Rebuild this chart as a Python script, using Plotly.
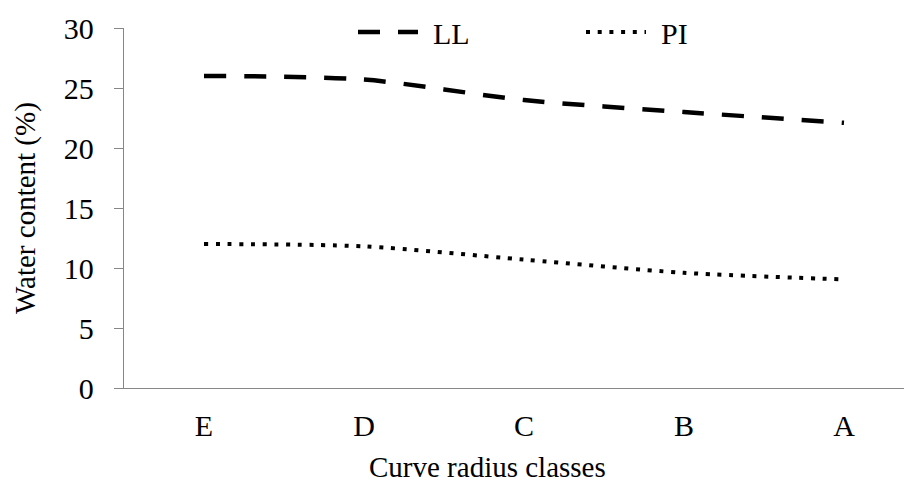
import plotly.graph_objects as go

categories = ["E", "D", "C", "B", "A"]
ll_values = [26.0, 25.7, 24.0, 23.0, 22.1]
pi_values = [12.0, 11.8, 10.7, 9.6, 9.05]
y_ticks = [0, 5, 10, 15, 20, 25, 30]

OFF = 8  # default body margin of the page
W, H = 912 - OFF, 485 - OFF
PLOT_L, PLOT_T, PLOT_B = 124, 28, 388  # page pixels
L, T = PLOT_L - OFF, PLOT_T - OFF
B = H - (PLOT_B - OFF)
R = 0
PW, PH = W - L - R, H - T - B

def px_x(px):
    return (px - PLOT_L) / PW

def px_y(py):
    return (PLOT_B - py) / PH

FONT = "Liberation Serif, Times New Roman, serif"
AX = "#878787"

fig = go.Figure()
fig.add_trace(go.Scatter(
    x=categories, y=ll_values, name="\u00a0\u200aLL", mode="lines",
    line=dict(color="black", width=4.5, dash="22px,18px", shape="spline", smoothing=0.8),
))
fig.add_trace(go.Scatter(
    x=categories, y=pi_values, name="\u00a0\u200aPI", mode="lines",
    line=dict(color="black", width=4, dash="4px,7.7px", shape="spline", smoothing=0.8),
))

fig.update_layout(
    width=W, height=H,
    margin=dict(l=L, r=R, t=T, b=B, pad=0, autoexpand=False),
    plot_bgcolor="white", paper_bgcolor="white",
    font=dict(family=FONT, size=30, color="black"),
    showlegend=True,
    legend=dict(
        orientation="h", x=px_x(581), xanchor="center", y=px_y(32), yanchor="middle",
        font=dict(family=FONT, size=30, color="black"),
        itemwidth=60, entrywidth=153, bgcolor="rgba(0,0,0,0)",
    ),
    xaxis=dict(
        type="category", range=[-0.5, 4.425], showline=True, linecolor=AX, linewidth=1.3,
        ticks="", showgrid=False, zeroline=False, ticklabelstandoff=11,
        tickfont=dict(family=FONT, size=30, color="black"),
    ),
    yaxis=dict(
        range=[0, 30], tickvals=y_ticks, showline=True, linecolor=AX, linewidth=1.3,
        ticks="outside", ticklen=9, tickcolor=AX, tickwidth=1.3,
        showgrid=False, zeroline=False, ticklabelstandoff=14,
        tickfont=dict(family=FONT, size=30, color="black"),
    ),
    annotations=[
        dict(text="Curve radius classes", xref="paper", yref="paper",
             x=px_x(487.5), y=px_y(467), xanchor="center", yanchor="middle",
             showarrow=False, font=dict(family=FONT, size=29, color="black")),
        dict(text="Water content (%)", xref="paper", yref="paper",
             x=px_x(25), y=px_y(208), xanchor="center", yanchor="middle", textangle=-90,
             showarrow=False, font=dict(family=FONT, size=29, color="black")),
    ],
)

fig.write_html("out.html")
